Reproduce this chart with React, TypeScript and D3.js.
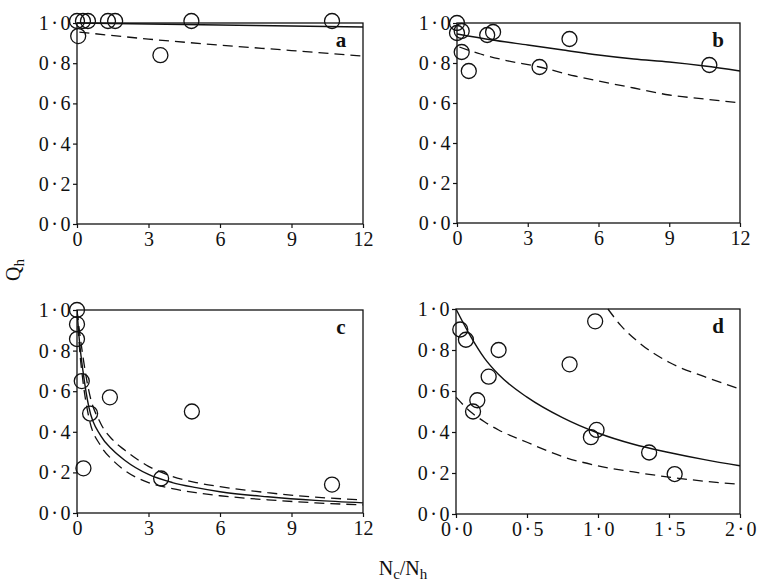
import React, { useEffect, useRef } from 'react';
import * as d3 from 'd3';

type Pt = [number, number];

const pointsA: Pt[] = [[0, 1.01], [0.25, 1.01], [0.46, 1.01], [1.3, 1.01], [1.6, 1.01], [4.8, 1.01], [10.7, 1.01], [0.05, 0.935], [3.5, 0.84]];
const pointsB: Pt[] = [[0, 1.0], [0, 0.95], [0.2, 0.96], [0.2, 0.855], [0.5, 0.76], [1.28, 0.94], [1.53, 0.955], [3.5, 0.78], [4.77, 0.92], [10.7, 0.79]];
const pointsC: Pt[] = [[0, 1.0], [0, 0.93], [0, 0.857], [0.2, 0.65], [0.55, 0.49], [0.27, 0.22], [1.38, 0.57], [4.82, 0.5], [3.53, 0.17], [10.7, 0.14]];
const pointsD: Pt[] = [[0.03, 0.9], [0.07, 0.85], [0.3, 0.8], [0.23, 0.67], [0.15, 0.555], [0.12, 0.5], [0.8, 0.73], [0.98, 0.94], [0.95, 0.375], [0.99, 0.41], [1.36, 0.3], [1.54, 0.195]];

// fitted curves, sampled from the figure
const solidA: Pt[] = [[0, 1.0], [3, 0.995], [6, 0.99], [9, 0.985], [12, 0.98]];
const dashA: Pt[] = [[0.1, 0.955], [3, 0.92], [6, 0.89], [9, 0.863], [12, 0.835]];
const solidB: Pt[] = [[0, 0.945], [1.5, 0.915], [3, 0.89], [4.5, 0.865], [6, 0.84], [7.5, 0.82], [9, 0.805], [10.5, 0.785], [12, 0.76]];
const dashB: Pt[] = [[0.1, 0.88], [1, 0.845], [2, 0.815], [3.5, 0.78], [5, 0.735], [6, 0.71], [7.5, 0.675], [9, 0.64], [10.5, 0.62], [12, 0.6]];
const solidC: Pt[] = [[0, 1.0], [0.1, 0.85], [0.25, 0.7], [0.5, 0.52], [1, 0.38], [1.5, 0.31], [2, 0.26], [3, 0.19], [4, 0.15], [5, 0.125], [6, 0.105], [8, 0.08], [10, 0.062], [12, 0.05]];
const dashC1: Pt[] = [[0, 1.0], [0.1, 0.9], [0.25, 0.77], [0.5, 0.6], [1, 0.44], [1.5, 0.36], [2, 0.31], [3, 0.23], [4, 0.18], [5, 0.15], [6, 0.13], [8, 0.1], [10, 0.078], [12, 0.065]];
const dashC2: Pt[] = [[0, 1.0], [0.1, 0.82], [0.25, 0.65], [0.5, 0.47], [1, 0.33], [1.5, 0.26], [2, 0.21], [3, 0.15], [4, 0.12], [5, 0.1], [6, 0.085], [8, 0.065], [10, 0.05], [12, 0.04]];
const solidD: Pt[] = [[0, 1.0], [0.1, 0.87], [0.2, 0.76], [0.3, 0.68], [0.5, 0.57], [0.75, 0.47], [1.0, 0.395], [1.25, 0.34], [1.5, 0.3], [1.75, 0.265], [2.0, 0.235]];
const dashD1: Pt[] = [[0, 0.57], [0.1, 0.5], [0.2, 0.45], [0.3, 0.41], [0.5, 0.35], [0.75, 0.28], [1.0, 0.235], [1.25, 0.205], [1.5, 0.18], [1.75, 0.16], [2.0, 0.145]];
const dashD2: Pt[] = [[1.07, 1.0], [1.16, 0.92], [1.3, 0.83], [1.5, 0.74], [1.75, 0.67], [2.0, 0.61]];

const yTicks = [0, 0.2, 0.4, 0.6, 0.8, 1.0];
const xTicksN = [0, 3, 6, 9, 12];
const xTicksD = [0, 0.5, 1.0, 1.5, 2.0];

const panels = [
  { label: 'a', box: [77, 363, 23, 224], xMax: 12, xTicks: xTicksN, pts: pointsA, solid: [solidA], dashed: [dashA] },
  { label: 'b', box: [457, 740, 23, 223], xMax: 12, xTicks: xTicksN, pts: pointsB, solid: [solidB], dashed: [dashB] },
  { label: 'c', box: [77, 363, 310, 513], xMax: 12, xTicks: xTicksN, pts: pointsC, solid: [solidC], dashed: [dashC1, dashC2] },
  { label: 'd', box: [456, 740, 309, 514], xMax: 2, xTicks: xTicksD, pts: pointsD, solid: [solidD], dashed: [dashD1, dashD2] },
];

const FONT = 'Liberation Serif, Times New Roman, Times, serif';
const dot = (s: string) => s.replace('.', '·');

const App = () => {
  const ref = useRef<SVGSVGElement>(null);

  useEffect(() => {
    const svg = d3.select(ref.current);
    svg.selectAll('*').remove();

    panels.forEach(p => {
      const [x0, x1, y0, y1] = p.box;
      const x = d3.scaleLinear().domain([0, p.xMax]).range([x0, x1]);
      const y = d3.scaleLinear().domain([0, 1]).range([y1, y0]);
      const g = svg.append('g');

      // clip curves to the frame
      const clipId = 'clip-' + p.label;
      g.append('clipPath').attr('id', clipId)
        .append('rect').attr('x', x0).attr('y', y0 - 1).attr('width', x1 - x0).attr('height', y1 - y0 + 1);

      g.append('rect')
        .attr('x', x0).attr('y', y0).attr('width', x1 - x0).attr('height', y1 - y0)
        .attr('fill', 'none').attr('stroke', '#111').attr('stroke-width', 1.3);

      const decimals = p.xMax === 2;
      const xFmt = decimals ? (d: number) => dot(d3.format('.1f')(d)) : (d: number) => String(d);
      const xAxis = g.append('g')
        .attr('transform', `translate(0,${y1})`)
        .call(d3.axisBottom(x).tickValues(p.xTicks).tickFormat(xFmt as any).tickSizeInner(4).tickSizeOuter(0).tickPadding(4));
      const yAxis = g.append('g')
        .attr('transform', `translate(${x0},0)`)
        .call(d3.axisLeft(y).tickValues(yTicks).tickFormat((d: any) => dot(d3.format('.1f')(d))).tickSizeInner(4).tickSizeOuter(0).tickPadding(0));
      [xAxis, yAxis].forEach(a => {
        a.select('.domain').remove();
        a.selectAll('line').attr('stroke', '#111').attr('stroke-width', 1.2);
        a.selectAll('text').attr('font-family', FONT).attr('font-size', 20).attr('fill', '#111');
      });
      yAxis.selectAll('text').attr('letter-spacing', 2.5);
      if (decimals) xAxis.selectAll('text').attr('letter-spacing', 2.5).attr('dx', 1.5);

      const line = d3.line<Pt>().x(d => x(d[0])).y(d => y(d[1])).curve(d3.curveMonotoneX);
      const curves = g.append('g').attr('clip-path', `url(#${clipId})`);
      p.solid.forEach(s => curves.append('path').attr('d', line(s)).attr('fill', 'none')
        .attr('stroke', '#111').attr('stroke-width', 1.4));
      p.dashed.forEach(s => curves.append('path').attr('d', line(s)).attr('fill', 'none')
        .attr('stroke', '#111').attr('stroke-width', 1.3).attr('stroke-dasharray', '10,6'));

      g.selectAll('circle.pt').data(p.pts).enter().append('circle')
        .attr('class', 'pt')
        .attr('cx', d => x(d[0])).attr('cy', d => y(d[1])).attr('r', 7.5)
        .attr('fill', 'none').attr('stroke', '#111').attr('stroke-width', 1.3);

      g.append('text')
        .attr('x', x1 - 22).attr('y', y0 + 24)
        .attr('text-anchor', 'middle')
        .attr('font-family', FONT).attr('font-size', 21).attr('font-weight', 'bold').attr('fill', '#111')
        .text(p.label);
    });

    const yl = svg.append('text')
      .attr('transform', 'translate(20,270) rotate(-90)')
      .attr('text-anchor', 'middle')
      .attr('font-family', FONT).attr('font-size', 20).attr('fill', '#111');
    yl.append('tspan').text('Q');
    yl.append('tspan').attr('font-size', 15).attr('dy', 4).text('h');

    const xl = svg.append('text')
      .attr('x', 403).attr('y', 575)
      .attr('text-anchor', 'middle')
      .attr('font-family', FONT).attr('font-size', 20).attr('fill', '#111');
    xl.append('tspan').text('N');
    xl.append('tspan').attr('font-size', 15).attr('dy', 4).text('c');
    xl.append('tspan').attr('dy', -4).text('/N');
    xl.append('tspan').attr('font-size', 15).attr('dy', 4).text('h');
  }, []);

  return (
    <svg ref={ref} width={762} height={584}
      style={{ position: 'absolute', left: 0, top: 0, background: '#fff' }} />
  );
};

export default App;
